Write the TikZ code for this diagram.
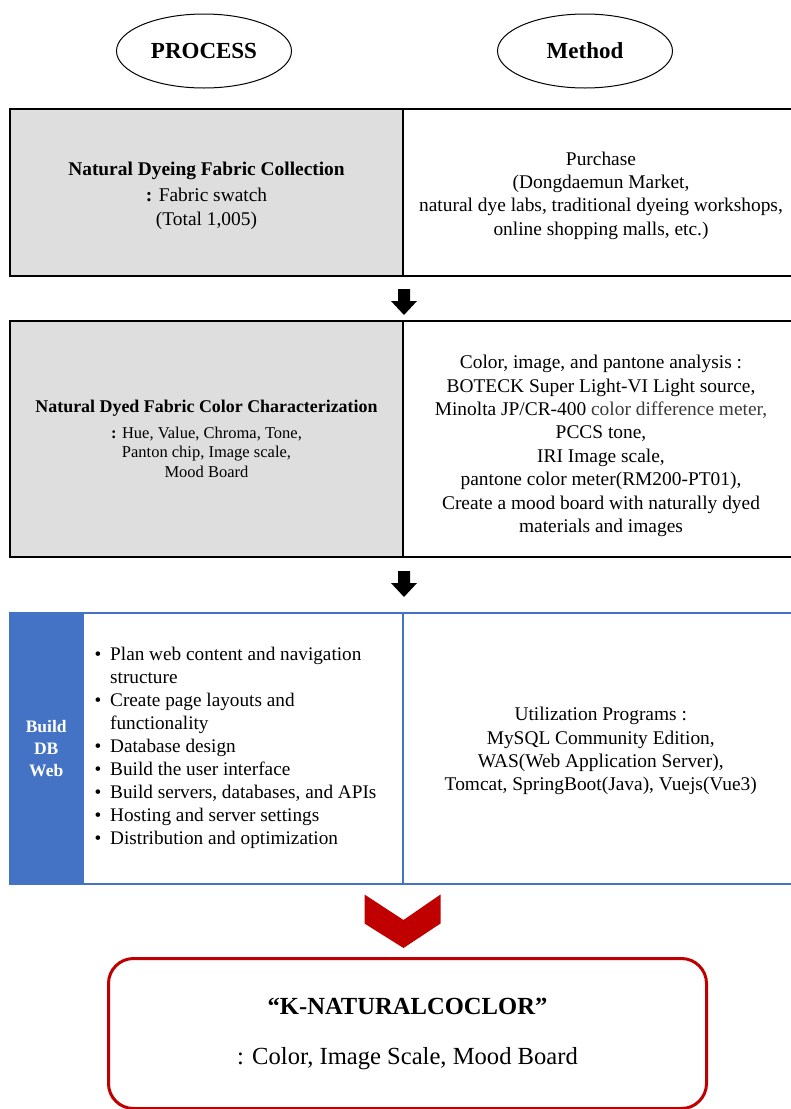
\documentclass[tikz,border=0pt]{standalone}
\usepackage{fontspec}
\setmainfont{Liberation Serif}
\usetikzlibrary{shapes.geometric,positioning,calc}
\definecolor{cellgray}{HTML}{DEDEDE}
\definecolor{dbblue}{HTML}{4472C4}
\definecolor{kred}{HTML}{C00000}
\definecolor{metergray}{HTML}{3A3A3A}
\tikzset{
  head/.style={ellipse, draw, line width=1pt, minimum width=175pt, minimum height=74pt,
    font=\fontsize{23}{26}\selectfont\bfseries},
  cell/.style={draw, line width=2pt, anchor=north west, inner sep=0pt, align=center,
    font=\fontsize{19.4}{23.5}\selectfont},
  graycell/.style={cell, fill=cellgray},
  bluecell/.style={cell, draw=dbblue, line width=1.5pt},
  celltext/.style={align=center, inner sep=0pt, font=\fontsize{19.4}{23.4}\selectfont},
  result/.style={draw=kred, line width=3pt, rounded corners=25pt, anchor=north west,
    minimum width=598pt, minimum height=150pt, align=center, font=\fontsize{24.6}{28}\selectfont},
}
\newcommand{\bitem}{\makebox[15.5pt][l]{\textbullet}}
\newcommand{\blockdown}[1]{\fill ($#1+(-6,0)$) -- ++(12,0) -- ++(0,12) -- ++(7,0) -- ++(-13,14)
  -- ++(-13,-14) -- ++(7,0) -- cycle;}

\begin{document}
\begin{tikzpicture}[x=1pt, y=-1pt]
\clip (0,0) rectangle (791,1109);

% headers
\node[head] (process) at (204,51) {PROCESS};
\node[head] (method) at (585,51) {Method};

% step 1
\node[graycell, minimum width=393pt, minimum height=167pt] (collect) at (9,108) {};
\node[celltext] (collecttext) at ([yshift=-3pt]collect.center)
  {{\bfseries Natural Dyeing Fabric Collection}\\[3pt]
   \textbf{:} Fabric swatch\\ (Total 1,005)};
\node[cell, minimum width=396pt, minimum height=167pt] (purchase) at (402,108) {};
\node[celltext] (purchasetext) at ([yshift=-3pt]purchase.center)
  {Purchase\\ (Dongdaemun Market,\\ natural dye labs, traditional dyeing workshops,\\
   online shopping malls, etc.)};

\coordinate (a1) at ($(collect.south east)+(0,12)$);
\blockdown{(a1)}

% step 2
\node[graycell, minimum width=393pt, minimum height=236pt, font=\fontsize{16.5}{19.5}\selectfont] (charac) at (9,320)
  {{\fontsize{17.9}{22}\selectfont\bfseries Natural Dyed Fabric Color Characterization}\\[6pt]
   \textbf{:} Hue, Value, Chroma, Tone,\\
   Panton chip, Image scale,\\ Mood Board};
\node[cell, minimum width=396pt, minimum height=236pt] (analysis) at (402,320) {};
\node[celltext] (analysistext) at ([yshift=-7pt]analysis.center)
  {Color, image, and pantone analysis :\\
   BOTECK Super Light-VI Light source,\\
   Minolta JP/CR-400 {\color{metergray}color difference meter,}\\
   PCCS tone,\\ IRI Image scale,\\ pantone color meter(RM200-PT01),\\
   Create a mood board with naturally dyed\\ materials and images};

\coordinate (a2) at ($(charac.south east)+(0,13)$);
\blockdown{(a2)}

% step 3
\node[bluecell, fill=dbblue, text=white, minimum width=73pt, minimum height=271pt,
  font=\fontsize{17.5}{22}\selectfont\bfseries] (dbweb) at (9,612) {Build\\ DB\\ Web};
\node[bluecell, minimum width=320pt, minimum height=271pt] (tasks) at (82,612) {};
\node[anchor=west, align=left, inner sep=0pt, font=\fontsize{19.25}{23}\selectfont]
  (steps) at ([xshift=12.5pt]tasks.west)
  {\bitem Plan web content and navigation\\
   \hspace*{15.5pt}structure\\
   \bitem Create page layouts and\\
   \hspace*{15.5pt}functionality\\
   \bitem Database design\\
   \bitem Build the user interface\\
   \bitem Build servers, databases, and APIs\\
   \bitem Hosting and server settings\\
   \bitem Distribution and optimization};
\node[bluecell, minimum width=396pt, minimum height=271pt] (programs) at (402,612) {};
\node[celltext] (programstext) at ([yshift=-3pt]programs.center)
  {Utilization Programs :\\ MySQL Community Edition,\\ WAS(Web Application Server),\\
   Tomcat, SpringBoot(Java), Vuejs(Vue3)};

% result
\coordinate (c) at ($(tasks.south east)+(0,10)$);
\fill[kred] ($(c)+(-39,0)$) -- (c |- 0,920) -- ($(c)+(37,0)$) -- ++(0,29) -- (c |- 0,948)
  -- ($(c)+(-39,29)$) -- cycle;
\node[result] (kcolor) at (107,957)
  {\textbf{“K-NATURALCOCLOR”}\\[22pt] : Color, Image Scale, Mood Board};
\end{tikzpicture}
\end{document}
